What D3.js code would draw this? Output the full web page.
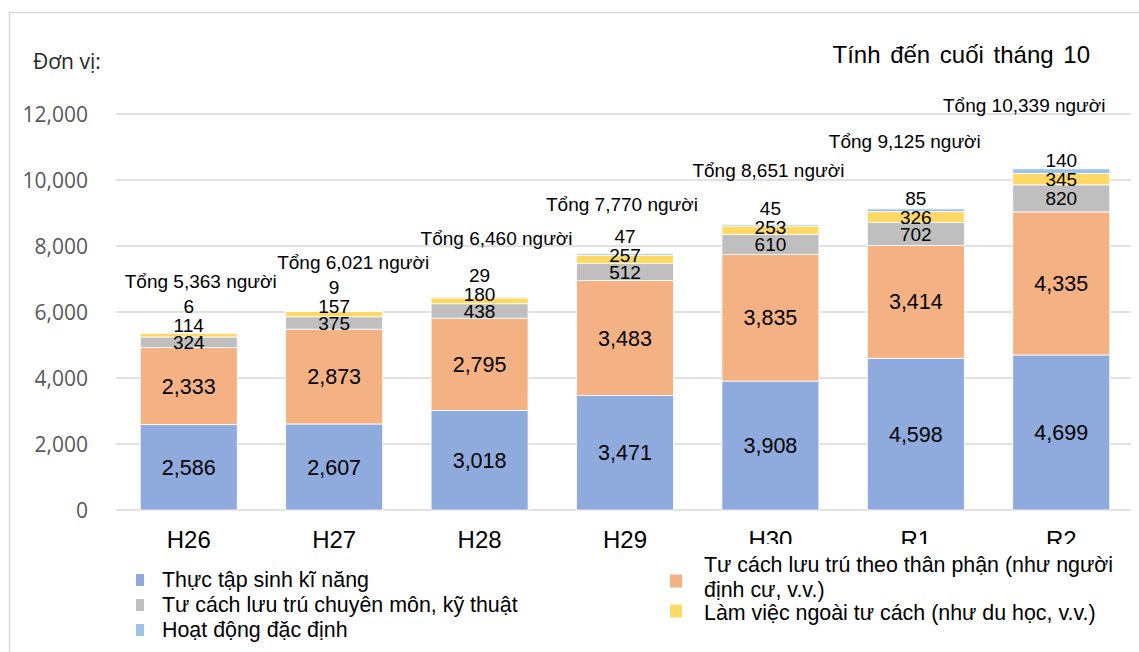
<!DOCTYPE html>
<html>
<head>
<meta charset="utf-8">
<script src="https://cdn.jsdelivr.net/npm/d3@7"></script>
<style>
  html, body { margin: 0; padding: 0; background: #fff; }
  svg { display: block; }
</style>
</head>
<body>
<svg id="chart" width="1139" height="652"></svg>
<script>
// ---------- DATA ----------
const categories = ["H26", "H27", "H28", "H29", "H30", "R1", "R2"];
const trainees   = [2586, 2607, 3018, 3471, 3908, 4598, 4699];   // Thực tập sinh kĩ năng
const statusRes  = [2333, 2873, 2795, 3483, 3835, 3414, 4335];   // Tư cách lưu trú theo thân phận
const profTech   = [324, 375, 438, 512, 610, 702, 820];          // chuyên môn, kỹ thuật
const outsideWork= [114, 157, 180, 257, 253, 326, 345];          // Làm việc ngoài tư cách
const specified  = [6, 9, 29, 47, 45, 85, 140];                  // Hoạt động đặc định
const totals     = [5363, 6021, 6460, 7770, 8651, 9125, 10339];
const yTicks     = [0, 2000, 4000, 6000, 8000, 10000, 12000];

const seriesNames = [
  "Thực tập sinh kĩ năng",
  "Tư cách lưu trú theo thân phận (như người định cư, v.v.)",
  "Tư cách lưu trú chuyên môn, kỹ thuật",
  "Làm việc ngoài tư cách (như du học, v.v.)",
  "Hoạt động đặc định"
];

// ---------- LAYOUT / STYLE ----------
const colors = ["#8faadc", "#f4b183", "#bfbfbf", "#ffd966", "#9dc3e6"];
// manual nudges of the "Tổng ..." annotations (px, relative to bar centre / bar top)
const totalNudge = [[12, -52], [19, -49], [17, -58], [-3, -49], [-2, -54], [-11, -68], [-37, -63]];

const svg = d3.select("#chart");
const FONT = "'Liberation Sans', Arial, sans-serif";

// frame
svg.append("rect").attr("x", 9.5).attr("y", 12.5).attr("width", 1200).attr("height", 700)
  .attr("fill", "#fff").attr("stroke", "#d9d9d9").attr("stroke-width", 1.5);

const y = d3.scaleLinear().domain([0, 12000]).range([510, 114]);
const x = d3.scaleBand().domain(categories).range([116, 1134]).paddingInner(0.333).paddingOuter(0.1667);

// gridlines
svg.append("g").selectAll("line").data(yTicks).join("line")
  .attr("x1", 116).attr("x2", 1131)
  .attr("y1", d => y(d)).attr("y2", d => y(d))
  .attr("stroke", "#d9d9d9").attr("stroke-width", 1.5);

// y axis labels
const yAxis = d3.axisLeft(y).tickValues(yTicks).tickFormat(d3.format(",")).tickSize(0).tickPadding(0);
const gy = svg.append("g").attr("transform", "translate(88,0)").call(yAxis);
gy.select(".domain").remove();
gy.selectAll("text").attr("font-family", "'Open Sans', sans-serif").attr("font-size", 21)
  .attr("fill", "#595959").attr("dy", "0.35em");

// unit label & title
svg.append("text").attr("x", 33).attr("y", 62).attr("dy", "0.35em")
  .attr("font-family", "'Open Sans', sans-serif").attr("font-size", 21).attr("fill", "#262626")
  .text("Đơn vị:");
svg.append("text").attr("x", 1090).attr("y", 55).attr("dy", "0.35em").attr("text-anchor", "end")
  .attr("font-family", FONT).attr("font-size", 24).attr("fill", "#000").attr("word-spacing", 3)
  .text("Tính đến cuối tháng 10");

// stacked data
const seriesArrays = [trainees, statusRes, profTech, outsideWork, specified];
const rows = categories.map((c, i) => {
  const r = { cat: c };
  seriesArrays.forEach((arr, k) => r["s" + k] = arr[i]);
  return r;
});
const stack = d3.stack().keys(["s0", "s1", "s2", "s3", "s4"]);
const stacked = stack(rows);

const gBars = svg.append("g");
stacked.forEach((layer, k) => {
  gBars.append("g").selectAll("rect").data(layer).join("rect")
    .attr("x", d => x(d.data.cat))
    .attr("width", x.bandwidth())
    .attr("y", d => y(d[1]))
    .attr("height", d => y(d[0]) - y(d[1]))
    .attr("fill", colors[k])
    .attr("stroke", "#ffffff").attr("stroke-width", 0.8);
});

// segment labels
const fmt = d3.format(",");
const gLab = svg.append("g").attr("font-family", FONT).attr("fill", "#000").attr("text-anchor", "middle");
categories.forEach((c, i) => {
  const cx = x(c) + x.bandwidth() / 2;
  const mid = k => y((stacked[k][i][0] + stacked[k][i][1]) / 2);
  [0, 1].forEach(k => {
    gLab.append("text").attr("x", cx).attr("y", mid(k)).attr("dy", "0.35em")
      .attr("font-size", 21.5).text(fmt(seriesArrays[k][i]));
  });
  const grayY = mid(2);
  const yellowY = Math.min(mid(3), grayY - 17);
  const specY = yellowY - 19;
  gLab.append("text").attr("x", cx).attr("y", grayY).attr("dy", "0.35em").attr("font-size", 19).text(fmt(profTech[i]));
  gLab.append("text").attr("x", cx).attr("y", yellowY).attr("dy", "0.35em").attr("font-size", 19).text(fmt(outsideWork[i]));
  gLab.append("text").attr("x", cx).attr("y", specY).attr("dy", "0.35em").attr("font-size", 19).text(fmt(specified[i]));
  gLab.append("text").attr("x", cx + totalNudge[i][0]).attr("y", y(totals[i]) + totalNudge[i][1]).attr("dy", "0.35em")
    .attr("font-size", 19).text("Tổng " + fmt(totals[i]) + " người");
});

// x axis labels
const xAxis = d3.axisBottom(x).tickSize(0).tickPadding(0);
const gx = svg.append("g").attr("transform", "translate(0,540)").call(xAxis);
gx.select(".domain").remove();
gx.selectAll("text").attr("font-family", FONT).attr("font-size", 24).attr("fill", "#000").attr("dy", "0.35em");

// legend (right block has white background that overlaps axis labels)
const gLeg = svg.append("g").attr("font-family", FONT).attr("font-size", 21.4).attr("fill", "#000");
gLeg.append("rect").attr("x", 660).attr("y", 544).attr("width", 470).attr("height", 100).attr("fill", "#fff");

const leftItems = [
  { k: 0, y: 580 },
  { k: 2, y: 605 },
  { k: 4, y: 630 }
];
leftItems.forEach(it => {
  gLeg.append("rect").attr("x", 136).attr("y", it.y - 6).attr("width", 8).attr("height", 12).attr("fill", colors[it.k]);
  gLeg.append("text").attr("x", 162).attr("y", it.y).attr("dy", "0.35em").text(seriesNames[it.k]);
});
const rightItems = [
  { k: 1, y: 581, lines: ["Tư cách lưu trú theo thân phận (như người", "định cư, v.v.)"], ty: 565 },
  { k: 3, y: 611, lines: ["Làm việc ngoài tư cách (như du học, v.v.)"], ty: 613 }
];
rightItems.forEach(it => {
  gLeg.append("rect").attr("x", 670).attr("y", it.y - 6.5).attr("width", 12).attr("height", 13).attr("fill", colors[it.k]);
  const t = gLeg.append("text").attr("x", 704).attr("y", it.ty);
  it.lines.forEach((ln, j) => {
    t.append("tspan").attr("x", 704).attr("dy", j === 0 ? "0.35em" : 24.5).text(ln);
  });
});
</script>
</body>
</html>
